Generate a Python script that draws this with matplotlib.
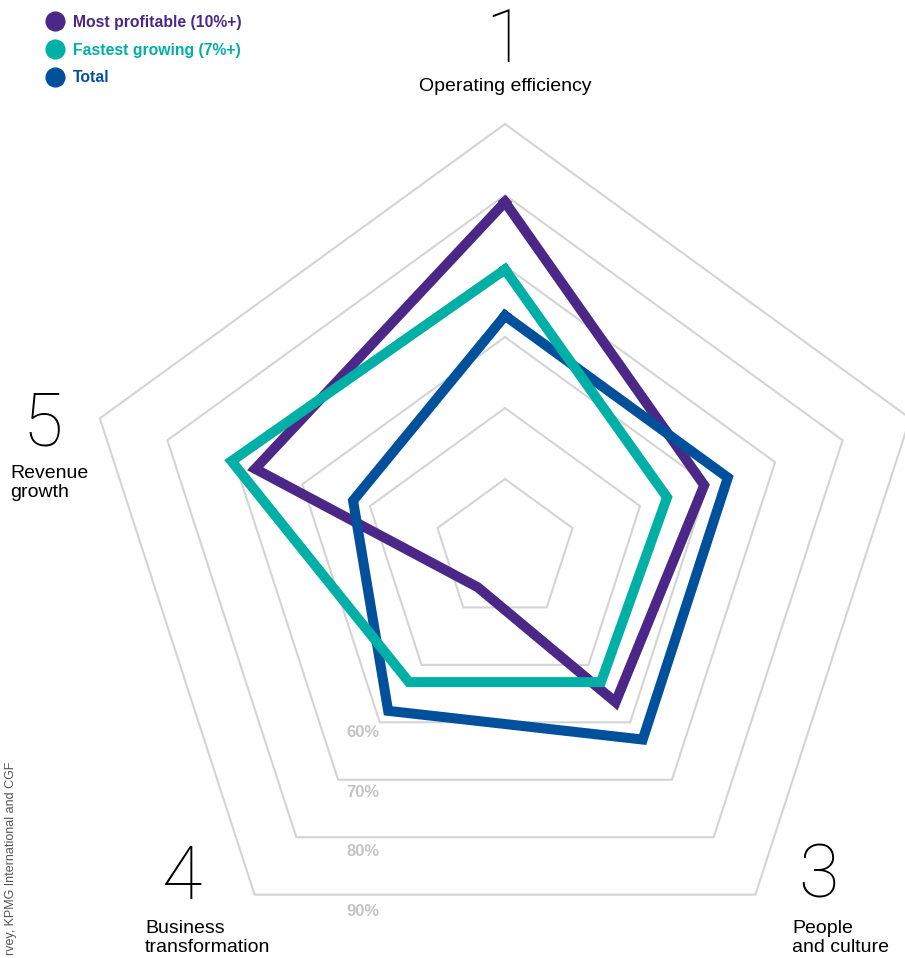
import matplotlib.pyplot as plt
import numpy as np

plt.rcParams['font.family'] = ['Liberation Sans', 'DejaVu Sans']

# Data (percent), axes clockwise from the top
axis_numbers = ['1', '2', '3', '4', '5']
axis_names = ['Operating efficiency', '', 'People\nand culture',
              'Business\ntransformation', 'Revenue\ngrowth']
most_profitable = [79, 59.5, 56.5, 36.5, 67]
fastest_growing = [69.5, 54, 53, 53, 70.5]
total = [63, 63, 63, 58, 52.5]
ring_levels = [40, 50, 60, 70, 80, 90]
labelled_levels = [60, 70, 80, 90]
series_names = ['Most profitable (10%+)', 'Fastest growing (7%+)', 'Total']
series_colors = ['#4b2887', '#00b0a6', '#00509b']
source_note = 'rvey, KPMG International and CGF'

W, H = 905, 958
BASE = 30           # value at the centre
PX = 7.1            # pixels per percentage point
CX, CY = 505, 550   # centre in pixels


def px(x, y):
    return x / W, 1 - y / H


angles = np.deg2rad(np.arange(5) * 72)


def to_xy(vals):
    r = np.asarray(vals, dtype=float) - BASE
    x = r * np.sin(angles)
    y = r * np.cos(angles)
    return np.append(x, x[0]), np.append(y, y[0])


fig = plt.figure(figsize=(W / 100, H / 100), dpi=100)
ax = fig.add_axes([0, 0, 1, 1])
ax.set_xlim(-CX / PX, (W - CX) / PX)
ax.set_ylim(-(H - CY) / PX, CY / PX)
ax.set_aspect('equal')
ax.axis('off')

# pentagon grid
for lv in ring_levels:
    gx, gy = to_xy([lv] * 5)
    ax.plot(gx, gy, color='#d4d4d4', lw=1.5, solid_joinstyle='miter', zorder=1)

# ring labels under the bottom edge
for lv in labelled_levels:
    ax.text(-142 / PX, -((lv - BASE) * 0.836 + 0.69), f'{lv}%', ha='center', va='center',
            fontsize=12, fontweight='bold', color='#c4c4c4')

# series: purple first, teal on top
for vals, col, z in zip([most_profitable, fastest_growing, total], series_colors, [3, 5, 4]):
    sx, sy = to_xy(vals)
    ax.plot(sx, sy, color=col, lw=7.2, solid_joinstyle='miter', zorder=z)

# legend
for i, (name, col) in enumerate(zip(series_names, series_colors)):
    yy = 21 + 28 * i
    ax.plot(*px(55, yy), 'o', ms=13.5, color=col, transform=fig.transFigure, clip_on=False)
    fig.text(*px(73, yy + 1), name, ha='left', va='center', fontsize=11.3,
             fontweight='bold', color=col)

# axis numbers and names
num_style = dict(fontsize=53, fontweight=100, family=['Roboto', 'DejaVu Sans'],
                 color='black', ha='center', va='baseline')
name_style = dict(fontsize=14, color='black', linespacing=1.18)

fig.text(*px(505, 62), axis_numbers[0], **num_style)
fig.text(*px(505, 87), axis_names[0], ha='center', va='center', **name_style)

fig.text(*px(818, 898), axis_numbers[2], **num_style)
fig.text(*px(792, 920), axis_names[2], ha='left', va='top', **name_style)

fig.text(*px(182, 899), axis_numbers[3], **num_style)
fig.text(*px(145, 920), axis_names[3], ha='left', va='top', **name_style)

fig.text(*px(43, 445), axis_numbers[4], **num_style)
fig.text(*px(10, 465), axis_names[4], ha='left', va='top', **name_style)

# source note along the left edge
fig.text(*px(11, 762), source_note, rotation=90,
         ha='center', va='top', fontsize=9.0, color='#555555')

fig.savefig('out.png', dpi=100)
